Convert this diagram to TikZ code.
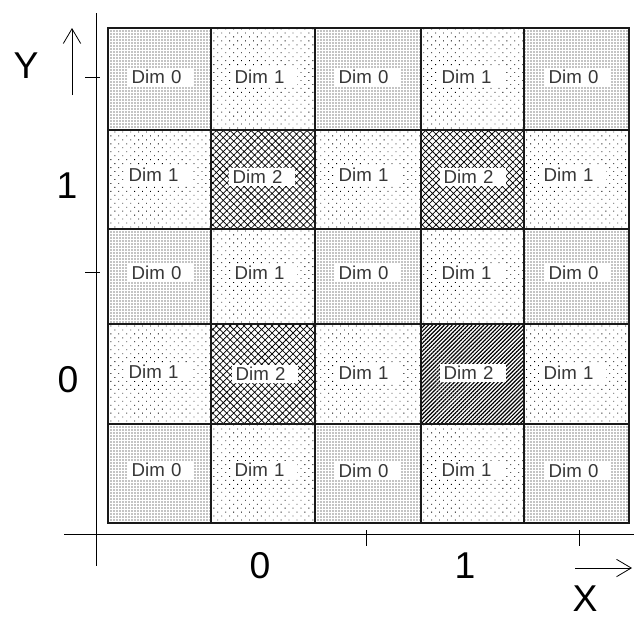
\documentclass[tikz,border=0pt]{standalone}
\usepackage{fontspec}
\setmainfont{Liberation Sans}
\usetikzlibrary{patterns.meta, arrows.meta}
\definecolor{gridline}{RGB}{25,25,25}
\definecolor{labeltext}{RGB}{55,55,55}

\begin{document}
\begin{tikzpicture}[x=0.75pt, y=-0.75pt, line width=0.6pt,
  cell/.style={draw=gridline, line width=1pt},
  dimzero/.style={cell, pattern={Dots[radius=0.5pt, distance=2.25pt]}},
  dimone/.style={cell, pattern={Dots[radius=0.45pt, distance=4.2pt, angle=45]}},
  dimtwo/.style={cell, pattern={Hatch[angle=45, distance=3.7pt, line width=0.55pt]}},
  dimdark/.style={cell, pattern={Lines[angle=45, distance=2.1pt, line width=0.9pt]}},
  dimlbl/.style={fill=white, anchor=west, text=labeltext, inner xsep=2.5pt, inner ysep=0pt,
    text width=44pt, minimum height=14pt, align=left, font=\fontsize{14}{15}\selectfont},
  axlbl/.style={inner sep=0.5pt, font=\fontsize{28}{30}\selectfont},
  axarrow/.style={-{Straight Barb[length=11pt, width=13pt]}}]
  \useasboundingbox (0,0) rectangle (634,619);
  \draw (64,534) -- (634,534);
  \draw (96,13) -- (96,566);
  \draw (85,77) -- (100,77);  \draw (85,272) -- (100,272);
  \draw (366,530) -- (366,546); \draw (579,530) -- (579,546);
  \coordinate (yfoot) at (72,95); \coordinate (ytip) at (72,28);
  \coordinate (xfoot) at (575,568); \coordinate (xtip) at (632,568);
  \draw[axarrow] (yfoot) -- (ytip);
  \draw[axarrow] (xfoot) -- (xtip);
  \node[axlbl] (ylab) at (26,66) {Y};
  \node[axlbl] (xlab) at (585,599) {X};
  \node[axlbl] (yone) at (67,186) {1};
  \node[axlbl] (yzero) at (68,380) {0};
  \node[axlbl] (xzero) at (260,566) {0};
  \node[axlbl] (xone) at (465,566) {1};
  \draw[dimzero] (108,28) rectangle (211,130);  \node[dimlbl] (c11) at (128,77) {Dim 0};
  \draw[dimone]  (211,28) rectangle (315,130);  \node[dimlbl] (c12) at (231,77) {Dim 1};
  \draw[dimzero] (315,28) rectangle (421,130);  \node[dimlbl] (c13) at (335,77) {Dim 0};
  \draw[dimone]  (421,28) rectangle (524,130);  \node[dimlbl] (c14) at (438,77) {Dim 1};
  \draw[dimzero] (524,28) rectangle (629,130);  \node[dimlbl] (c15) at (545,77) {Dim 0};
  \draw[dimone]  (108,130) rectangle (211,229); \node[dimlbl] (c21) at (125,175) {Dim 1};
  \draw[dimtwo]  (211,130) rectangle (315,229); \node[dimlbl] (c22) at (229,177) {Dim 2};
  \draw[dimone]  (315,130) rectangle (421,229); \node[dimlbl] (c23) at (335,175) {Dim 1};
  \draw[dimtwo]  (421,130) rectangle (524,229); \node[dimlbl] (c24) at (440,177) {Dim 2};
  \draw[dimone]  (524,130) rectangle (629,229); \node[dimlbl] (c25) at (540,175) {Dim 1};
  \draw[dimzero] (108,229) rectangle (211,324); \node[dimlbl] (c31) at (128,273) {Dim 0};
  \draw[dimone]  (211,229) rectangle (315,324); \node[dimlbl] (c32) at (231,273) {Dim 1};
  \draw[dimzero] (315,229) rectangle (421,324); \node[dimlbl] (c33) at (335,273) {Dim 0};
  \draw[dimone]  (421,229) rectangle (524,324); \node[dimlbl] (c34) at (438,273) {Dim 1};
  \draw[dimzero] (524,229) rectangle (629,324); \node[dimlbl] (c35) at (545,273) {Dim 0};
  \draw[dimone]  (108,324) rectangle (211,424); \node[dimlbl] (c41) at (125,372) {Dim 1};
  \draw[dimtwo]  (211,324) rectangle (315,424); \node[dimlbl] (c42) at (232,374) {Dim 2};
  \draw[dimone]  (315,324) rectangle (421,424); \node[dimlbl] (c43) at (335,373) {Dim 1};
  \draw[dimdark] (421,324) rectangle (524,424); \node[dimlbl] (c44) at (440,373) {Dim 2};
  \draw[dimone]  (524,324) rectangle (629,424); \node[dimlbl] (c45) at (540,373) {Dim 1};
  \draw[dimzero] (108,424) rectangle (211,523); \node[dimlbl] (c51) at (128,470) {Dim 0};
  \draw[dimone]  (211,424) rectangle (315,523); \node[dimlbl] (c52) at (231,470) {Dim 1};
  \draw[dimzero] (315,424) rectangle (421,523); \node[dimlbl] (c53) at (335,471) {Dim 0};
  \draw[dimone]  (421,424) rectangle (524,523); \node[dimlbl] (c54) at (438,470) {Dim 1};
  \draw[dimzero] (524,424) rectangle (629,523); \node[dimlbl] (c55) at (545,471) {Dim 0};
\end{tikzpicture}
\end{document}
